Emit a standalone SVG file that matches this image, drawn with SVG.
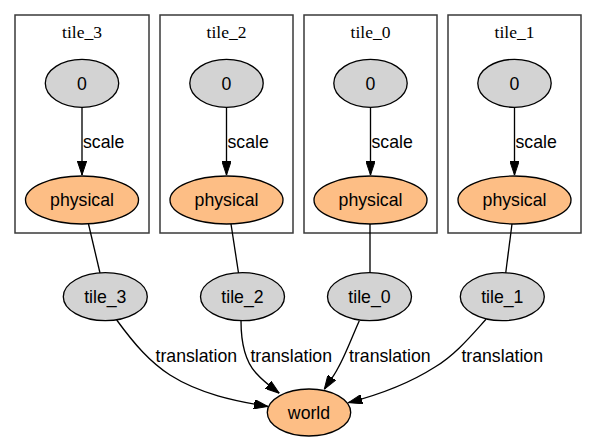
<svg xmlns="http://www.w3.org/2000/svg" width="597" height="442" viewBox="0 0 597 442">
<style>
.cl{fill:#fff;stroke:#3a3a3a;stroke-width:1.5}
.cllab{font-family:"Liberation Serif","Times New Roman",serif;font-size:17.5px;text-anchor:middle;fill:#000}
.g{fill:#d3d3d3;stroke:#000;stroke-width:1.33}
.o{fill:#fdbe85;stroke:#000;stroke-width:1.33}
.t{font-family:"Liberation Sans",Arial,sans-serif;font-size:17.7px;text-anchor:middle;fill:#000}
.e{fill:none;stroke:#000;stroke-width:1.33}
.el{font-family:"Liberation Sans",Arial,sans-serif;font-size:17.7px;fill:#000}
</style>
<defs>
<marker id="ah" viewBox="0 0 14 9.4" refX="14" refY="4.7" markerWidth="14" markerHeight="9.4" markerUnits="userSpaceOnUse" orient="auto">
<path d="M0,0 L14,4.7 L0,9.4 Z" fill="#000" stroke="#000" stroke-width="1"/>
</marker>
</defs>
<rect width="597" height="442" fill="#fff"/>
<g id="cluster_tile_3">
<rect class="cl" x="15" y="15" width="134" height="218"/>
<text class="cllab" x="82" y="38.3">tile_3</text>
</g>
<g id="cluster_tile_2">
<rect class="cl" x="160" y="15" width="133" height="218"/>
<text class="cllab" x="226.5" y="38.3">tile_2</text>
</g>
<g id="cluster_tile_0">
<rect class="cl" x="304" y="15" width="133" height="218"/>
<text class="cllab" x="370.5" y="38.3">tile_0</text>
</g>
<g id="cluster_tile_1">
<rect class="cl" x="448" y="15" width="133" height="218"/>
<text class="cllab" x="514.5" y="38.3">tile_1</text>
</g>
<g id="connectors">
<path class="e" d="M82,107.3 L82,175" marker-end="url(#ah)"/>
<path class="e" d="M226.5,107.3 L226.5,175" marker-end="url(#ah)"/>
<path class="e" d="M370.5,107.3 L370.5,175" marker-end="url(#ah)"/>
<path class="e" d="M514.5,107.3 L514.5,175" marker-end="url(#ah)"/>
<text class="el" x="83" y="148.3">scale</text>
<text class="el" x="227.5" y="148.3">scale</text>
<text class="el" x="371.5" y="148.3">scale</text>
<text class="el" x="515.5" y="148.3">scale</text>
<path class="e" d="M88.5,224 L100,273"/>
<path class="e" d="M231,224 L238.5,273"/>
<path class="e" d="M370,224 L370,273"/>
<path class="e" d="M512,224 L505.7,273"/>
<path class="e" d="M116.7,320 C135,345 150,362 170,375 C200,394 235,401 268,406.5" marker-end="url(#ah)"/>
<path class="e" d="M241,320.7 C241,340 244,360 256,373 C263,381 271,387 279.3,393.3" marker-end="url(#ah)"/>
<path class="e" d="M359.3,320.7 C352,337 345,356 338,368 C334,376 329,382 324.3,389.3" marker-end="url(#ah)"/>
<path class="e" d="M486,319.3 C470,337 455,355 435,367 C410,383 378,395 348.3,402.7" marker-end="url(#ah)"/>
<text class="t" x="196.3" y="362">translation</text>
<text class="t" x="291.2" y="362">translation</text>
<text class="t" x="389.8" y="362">translation</text>
<text class="t" x="502.2" y="362">translation</text>
</g>
<g id="tile_3_0"><ellipse class="g" cx="82" cy="83.3" rx="36.7" ry="24"/><text class="t" x="82" y="89.7">0</text></g>
<g id="tile_2_0"><ellipse class="g" cx="226.5" cy="83.3" rx="36.7" ry="24"/><text class="t" x="226.5" y="89.7">0</text></g>
<g id="tile_0_0"><ellipse class="g" cx="370.5" cy="83.3" rx="36.7" ry="24"/><text class="t" x="370.5" y="89.7">0</text></g>
<g id="tile_1_0"><ellipse class="g" cx="514.5" cy="83.3" rx="36.7" ry="24"/><text class="t" x="514.5" y="89.7">0</text></g>
<g id="tile_3_physical"><ellipse class="o" cx="82" cy="200" rx="56.5" ry="24"/><text class="t" x="82" y="206.4">physical</text></g>
<g id="tile_2_physical"><ellipse class="o" cx="226.5" cy="200" rx="56.5" ry="24"/><text class="t" x="226.5" y="206.4">physical</text></g>
<g id="tile_0_physical"><ellipse class="o" cx="370.5" cy="200" rx="56.5" ry="24"/><text class="t" x="370.5" y="206.4">physical</text></g>
<g id="tile_1_physical"><ellipse class="o" cx="514.5" cy="200" rx="56.5" ry="24"/><text class="t" x="514.5" y="206.4">physical</text></g>
<g id="tile_3"><ellipse class="g" cx="105.3" cy="296.7" rx="42" ry="24"/><text class="t" x="105.3" y="303">tile_3</text></g>
<g id="tile_2"><ellipse class="g" cx="242.5" cy="296.7" rx="42" ry="24"/><text class="t" x="242.5" y="303">tile_2</text></g>
<g id="tile_0"><ellipse class="g" cx="369.5" cy="296.7" rx="42" ry="24"/><text class="t" x="369.5" y="303">tile_0</text></g>
<g id="tile_1"><ellipse class="g" cx="502.3" cy="296.7" rx="42" ry="24"/><text class="t" x="502.3" y="303">tile_1</text></g>
<g id="world"><ellipse class="o" cx="309" cy="412.5" rx="41.7" ry="23.5"/><text class="t" x="309" y="418.8">world</text></g>
</svg>
